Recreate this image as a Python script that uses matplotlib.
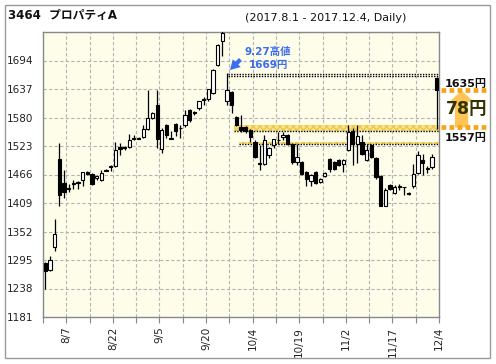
import matplotlib
matplotlib.use('Agg')
import matplotlib.pyplot as plt
import matplotlib.transforms as mtransforms
from matplotlib.patches import Rectangle

plt.rcParams['font.family'] = ['DejaVu Sans', 'Noto Sans CJK JP']

dates = ['8/1', '8/2', '8/3', '8/4', '8/7', '8/8', '8/9', '8/10', '8/14', '8/15', '8/16', '8/17', '8/18',
         '8/21', '8/22', '8/23', '8/24', '8/25', '8/28', '8/29', '8/30', '8/31',
         '9/1', '9/4', '9/5', '9/6', '9/7', '9/8', '9/11', '9/12', '9/13', '9/14', '9/15', '9/19', '9/20',
         '9/21', '9/22', '9/25', '9/26', '9/27', '9/28', '9/29',
         '10/2', '10/3', '10/4', '10/5', '10/6', '10/10', '10/11', '10/12', '10/13', '10/16', '10/17',
         '10/18', '10/19', '10/20', '10/23', '10/24', '10/25', '10/26', '10/27', '10/30', '10/31',
         '11/1', '11/2', '11/6', '11/7', '11/8', '11/9', '11/10', '11/13', '11/14', '11/15', '11/16',
         '11/17', '11/20', '11/21', '11/22', '11/24', '11/27', '11/28', '11/29', '11/30',
         '12/1', '12/4']

opens = [1290, 1275, 1322, 1498, 1450, 1440, 1450, 1452, 1455, 1472, 1468, 1460, 1455, 1476,
         1484, 1483, 1522, 1521, 1522, 1540, 1540, 1542, 1558, 1580, 1605, 1518, 1566, 1538,
         1567, 1560, 1565, 1596, 1591, 1600, 1618, 1617, 1630, 1686, 1733, 1613, 1632, 1582,
         1562, 1562, 1555, 1531, 1489, 1488, 1506, 1525, 1535, 1542, 1545, 1528, 1492, 1492,
         1472, 1454, 1472, 1452, 1463, 1498, 1492, 1495, 1487, 1516, 1553, 1528, 1532, 1496,
         1525, 1500, 1463, 1404, 1445, 1430, 1442, 1441, 1430, 1443, 1470, 1495, 1478, 1482,
         1660]
highs = [1292, 1303, 1378, 1530, 1476, 1448, 1456, 1453, 1472, 1474, 1470, 1465, 1475, 1478,
         1486, 1532, 1530, 1524, 1548, 1545, 1542, 1566, 1636, 1592, 1636, 1560, 1568, 1553,
         1570, 1566, 1595, 1598, 1593, 1614, 1622, 1638, 1677, 1727, 1770, 1669, 1634, 1584,
         1586, 1564, 1558, 1536, 1525, 1545, 1522, 1538, 1551, 1552, 1547, 1530, 1528, 1494,
         1474, 1468, 1474, 1460, 1472, 1500, 1494, 1497, 1498, 1565, 1560, 1565, 1545, 1528,
         1528, 1502, 1465, 1440, 1447, 1446, 1448, 1441, 1432, 1487, 1513, 1508, 1484, 1508,
         1662]
lows = [1237, 1273, 1314, 1403, 1420, 1432, 1437, 1438, 1443, 1466, 1446, 1455, 1453, 1473,
        1473, 1481, 1506, 1515, 1519, 1535, 1537, 1540, 1555, 1578, 1520, 1510, 1540, 1537,
        1543, 1540, 1562, 1572, 1586, 1595, 1605, 1613, 1628, 1684, 1703, 1605, 1590, 1563,
        1552, 1550, 1532, 1500, 1475, 1486, 1500, 1520, 1527, 1535, 1525, 1488, 1485, 1465,
        1443, 1443, 1448, 1450, 1461, 1471, 1476, 1483, 1472, 1514, 1486, 1490, 1506, 1494,
        1500, 1458, 1403, 1403, 1435, 1428, 1436, 1426, 1426, 1440, 1468, 1465, 1470, 1478,
        1557]
closes = [1274, 1296, 1348, 1426, 1431, 1437, 1447, 1450, 1471, 1468, 1447, 1464, 1470, 1474,
          1481, 1515, 1518, 1519, 1535, 1538, 1538, 1558, 1580, 1590, 1538, 1556, 1545, 1538,
          1553, 1559, 1585, 1575, 1589, 1613, 1616, 1637, 1675, 1725, 1750, 1635, 1605, 1565,
          1556, 1553, 1542, 1502, 1487, 1535, 1520, 1537, 1536, 1546, 1528, 1492, 1502, 1468,
          1458, 1465, 1450, 1458, 1470, 1478, 1478, 1485, 1496, 1552, 1528, 1543, 1508, 1515,
          1502, 1462, 1404, 1436, 1437, 1442, 1442, 1441, 1427, 1467, 1505, 1490, 1478, 1501,
          1635]

y_ticks = [1181, 1238, 1295, 1352, 1409, 1466, 1523, 1580, 1637, 1694]
y_top = 1751
x_labels = ['8/7', '8/22', '9/5', '9/20', '10/4', '10/19', '11/2', '11/17', '12/4']

high_date = '9/27'
high_value = 1669
gap_high = 1635
gap_low = 1557
gap_diff = 78

fig = plt.figure(figsize=(4.96, 3.64), dpi=100)
ax = fig.add_axes([43 / 496, 1 - 317 / 364, 396 / 496, 285 / 364])
ax.set_facecolor('#fdfdea')

n = len(dates)
xs = list(range(n))
ax.set_xlim(-0.5, n - 0.5)
ax.set_ylim(y_ticks[0], y_top)

# grid
grid_kw = dict(color='#b4b4b4', lw=0.8, ls=(0, (3, 2)), zorder=1)
for yv in y_ticks[1:]:
    ax.axhline(yv, **grid_kw)
tick_pos = [p + 0.5 for p in range(-1, n, 5)]
for p in tick_pos[1:-1]:
    ax.axvline(p, **grid_kw)

# bands
band_col = '#f7e48e'
i_high = dates.index(high_date)
for yy in (high_value - 2, high_value - 6):
    ax.plot([i_high + 0.2, n - 0.5], [yy, yy], color='black', lw=1.0, ls=(0, (1, 1)), zorder=2)
ax.fill_between([i_high + 1.5, n - 0.5], gap_low - 4, gap_low + 9, facecolor=band_col,
                edgecolor='#eec848', hatch='xxxxx', lw=0, zorder=1.5)
ax.plot([i_high + 1.5, n - 0.5], [gap_low - 4, gap_low - 4], color='black', lw=1.0, ls=(0, (1, 1)), zorder=2)
ax.fill_between([i_high + 2.5, n - 0.5], gap_low - 29, gap_low - 26, facecolor=band_col,
                edgecolor='#eec848', hatch='xxxxx', lw=0, zorder=1.5)
ax.plot([i_high + 2.5, n - 0.5], [gap_low - 30, gap_low - 30], color='black', lw=1.0, ls=(0, (1, 1)), zorder=2)

# candles
ax.vlines(xs, lows, highs, color='black', lw=0.9, zorder=3)
bottoms = [min(o, c) for o, c in zip(opens, closes)]
heights = [max(abs(c - o), 0.6) for o, c in zip(opens, closes)]
colors = ['black' if c < o else 'white' for o, c in zip(opens, closes)]
ax.bar(xs, heights, bottom=bottoms, width=0.7, color=colors, edgecolor='black', linewidth=0.8, zorder=4)

# axes styling
ax.set_yticks(y_ticks)
ax.set_yticklabels([str(v) for v in y_ticks], fontsize=7.5, color='#222222')
lab = []
for p in tick_pos:
    idx = int(p - 0.5)
    lab.append(dates[idx] if 0 <= idx < n and dates[idx] in x_labels else '')
ax.set_xticks(tick_pos)
ax.set_xticklabels(lab, rotation=90, fontsize=7.5, color='#222222')
ax.tick_params(axis='x', length=4, color='#888888', direction='out', pad=3)
ax.tick_params(axis='y', length=0, pad=7)
for s in ax.spines.values():
    s.set_color('#888888')
    s.set_linewidth(1.0)

# blue annotation for high
blue = '#3d6ef0'
ax.annotate('', xy=(i_high + 0.2, high_value + 2), xytext=(i_high + 3.3, high_value + 31),
            arrowprops=dict(arrowstyle='simple,head_length=0.7,head_width=0.8,tail_width=0.3',
                            fc=blue, ec='none'), zorder=6)
ax.text(i_high + 3.7, high_value + 43, f'{high_date.replace("/", ".")}高値', fontsize=7.5,
        fontweight='bold', color=blue, va='center', ha='left', zorder=6)
ax.text(i_high + 4.7, high_value + 16, f'{high_value}円', fontsize=7.5,
        fontweight='bold', color=blue, va='center', ha='left', zorder=6)

# right annotation
trans = mtransforms.blended_transform_factory(ax.transAxes, ax.transData)
ax.annotate('', xy=(1.057, gap_high - 1), xytext=(1.057, gap_low + 3), xycoords=trans, textcoords=trans,
            arrowprops=dict(arrowstyle='simple,head_length=0.8,head_width=1.7,tail_width=0.95',
                            fc='#ffc455', ec='none', shrinkA=0, shrinkB=0),
            annotation_clip=False, zorder=5)
for yy in (gap_high + 1, gap_low + 4):
    ax.plot([1.005, 1.125], [yy, yy], transform=trans, color='#f5a51c', lw=3.4,
            ls=(0, (1, 0.7)), clip_on=False, solid_capstyle='butt', dash_capstyle='butt', zorder=6)
ax.text(1.068, gap_high + 12, f'{gap_high}円', transform=trans, fontsize=8, fontweight='bold',
        ha='center', va='center', color='#111111', clip_on=False)
ax.text(1.071, (gap_high + gap_low) / 2 + 2, f'{gap_diff}円', transform=trans, fontsize=12.5,
        fontweight='bold', ha='center', va='center', color='#333300', clip_on=False, zorder=7)
ax.text(1.068, gap_low - 17, f'{gap_low}円', transform=trans, fontsize=8, fontweight='bold',
        ha='center', va='center', color='#111111', clip_on=False)

# titles and frame
fig.text(8 / 496, 1 - 16 / 364, '3464  プロパティA', fontsize=8.5, fontweight='bold',
         ha='left', va='center', color='#111111')
fig.text(245 / 496, 1 - 18 / 364, '(2017.8.1 - 2017.12.4, Daily)', fontsize=8,
         ha='left', va='center', color='#111111')
fig.patches.append(Rectangle((5 / 496, 6 / 364), 485 / 496, 353 / 364, transform=fig.transFigure,
                             fill=False, edgecolor='#999999', lw=1.0))

fig.savefig('out.png', dpi=100)
